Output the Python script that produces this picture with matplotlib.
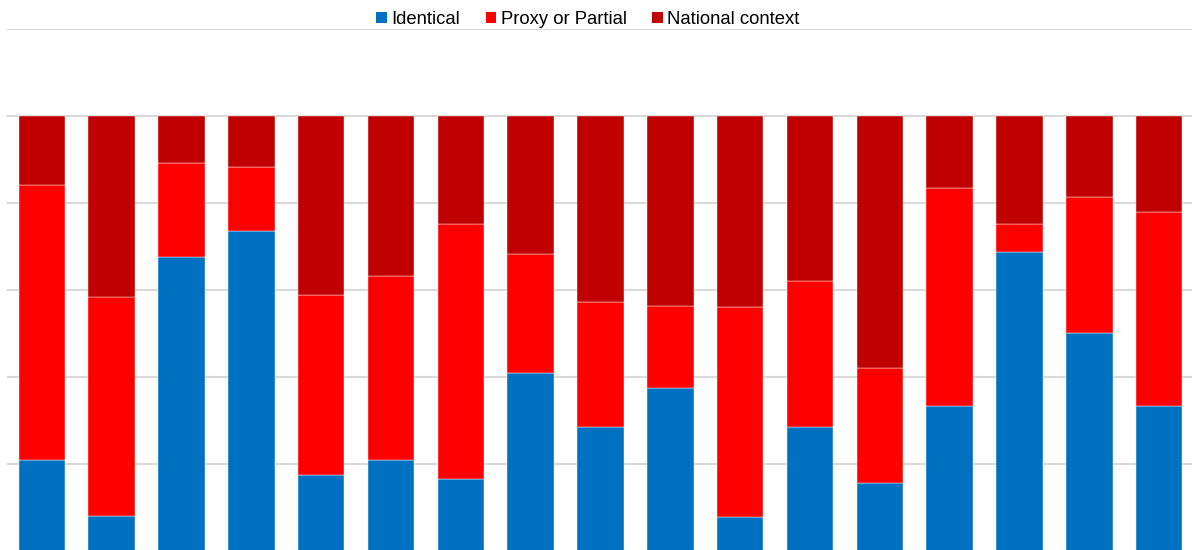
import matplotlib
matplotlib.use("Agg")
import matplotlib.pyplot as plt
from matplotlib.patches import Patch
import numpy as np

plt.rcParams['font.family'] = ['Liberation Sans', 'DejaVu Sans']

categories = [f"C{i}" for i in range(1, 18)]
identical = [0.209, 0.080, 0.676, 0.736, 0.175, 0.209, 0.166, 0.409, 0.285,
             0.375, 0.078, 0.285, 0.156, 0.333, 0.687, 0.501, 0.333]
proxy = [0.632, 0.504, 0.216, 0.147, 0.414, 0.423, 0.586, 0.274, 0.287,
         0.188, 0.483, 0.336, 0.265, 0.501, 0.065, 0.313, 0.446]
national = [0.159, 0.416, 0.108, 0.117, 0.411, 0.368, 0.248, 0.317, 0.428,
            0.437, 0.439, 0.379, 0.579, 0.166, 0.248, 0.186, 0.221]
series_names = ["Identical", "Proxy or Partial", "National context"]
colors = ["#0070C0", "#FF0000", "#C00000"]

W, H = 1192, 550
fig = plt.figure(figsize=(W / 100, H / 100), dpi=100)
ax = fig.add_axes([7 / W, -1 / H, 1187 / W, 522 / H])

x = np.arange(len(categories))
bottom = np.zeros(len(categories))
for vals, col in zip([identical, proxy, national], colors):
    ax.bar(x, vals, width=0.666, bottom=bottom, color=col,
           edgecolor="white", linewidth=0.3, zorder=3)
    bottom += np.array(vals)

ax.set_xlim(-0.5, len(categories) - 0.5)
ax.set_ylim(0, 1.2)
ax.set_yticks(np.arange(0, 1.21, 0.2))
ax.yaxis.grid(True, color="#D9D9D9", linewidth=1.5, zorder=0)
ax.set_xticks([])
ax.tick_params(left=False, labelleft=False)
for s in ax.spines.values():
    s.set_visible(False)

handles = [Patch(facecolor=c, edgecolor="none") for c in colors]
fig.legend(handles, series_names, loc="center", bbox_to_anchor=(588 / W, 1 - 19.5 / H),
           ncol=3, frameon=False, fontsize=13.3, handlelength=0.55,
           handleheight=0.55, handletextpad=0.25, columnspacing=1.4)

fig.savefig("out.png", dpi=100)
